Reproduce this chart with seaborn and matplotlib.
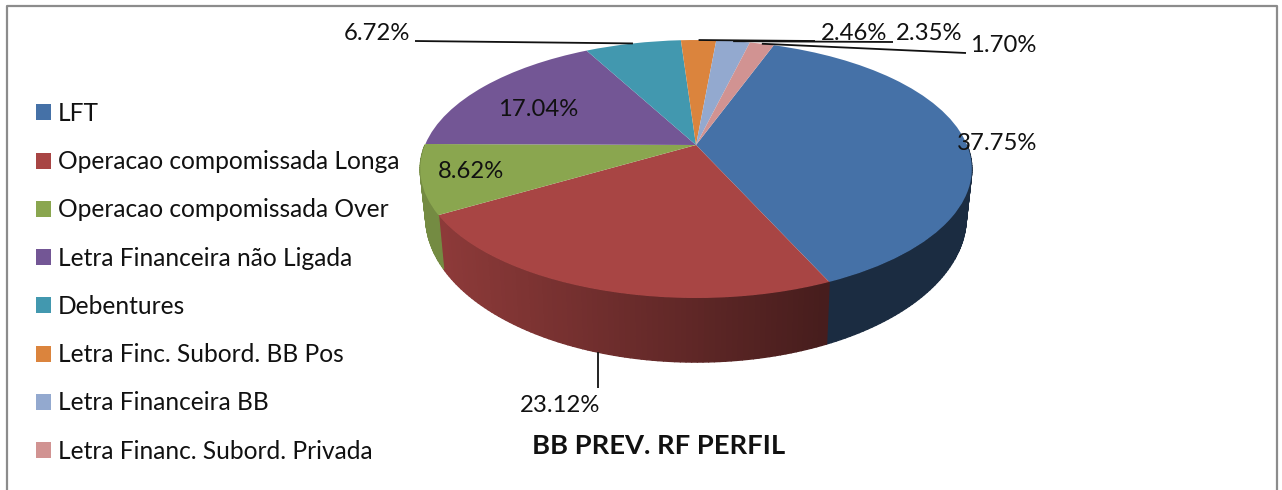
import matplotlib
matplotlib.use("Agg")
import matplotlib.pyplot as plt
from matplotlib.collections import PolyCollection
from matplotlib.patches import Patch
from matplotlib.transforms import Transform
import numpy as np
import seaborn as sns

categories = ["LFT", "Operacao compomissada Longa", "Operacao compomissada Over",
              "Letra Financeira não Ligada", "Debentures", "Letra Finc. Subord. BB Pos",
              "Letra Financeira BB", "Letra Financ. Subord. Privada"]
values = [37.75, 23.12, 8.62, 17.04, 6.72, 2.46, 2.35, 1.70]
colors = ["#4571A7", "#A84544", "#8AA64F", "#735695", "#4298AF", "#DB843D", "#93A9CF", "#D19392"]
title = "BB PREV. RF PERFIL"

# estilo
sns.set_theme(style="white")
plt.rcParams["font.family"] = ["Lato", "DejaVu Sans"]
palette = sns.color_palette(colors)

# geometria do disco em pixels da imagem
CX, CY, A, B, K = 696, 145, 271, 124.5, 0.186
DEPTH, SHRINK_X, STRETCH_Y = 45, 0.98, 1.125
START = 19.7  # graus a partir do topo, sentido horario
FS = 17.2


def project(x, y):
    d = 1 + K * y
    return CX + A * x / d, CY - B * y / d


class Perspective(Transform):
    input_dims = output_dims = 2
    is_separable = False
    has_inverse = False

    def transform_non_affine(self, xy):
        xy = np.asarray(xy, dtype=float)
        return np.column_stack(project(xy[:, 0], xy[:, 1]))


def rim(theta_deg):
    t = np.radians(theta_deg)
    return project(np.sin(t), np.cos(t))


def bottom(theta_deg):
    X, Y = rim(theta_deg)
    return CX + (X - CX) * SHRINK_X, CY + (Y - CY) * STRETCH_Y + DEPTH


fig = plt.figure(figsize=(12.82, 4.90), dpi=100)
ax = fig.add_axes([0, 0, 1, 1])

wedges, _ = ax.pie(values, colors=palette, startangle=90 - START, counterclock=False,
                   wedgeprops={"linewidth": 0})
persp = Perspective()
for w in wedges:
    w.set_transform(persp + ax.transData)
    w.set_zorder(3)
ax.set_aspect("auto")
ax.set_xlim(0, 1282)
ax.set_ylim(490, 0)
ax.set_axis_off()

# lateral do disco, so a parte da frente, escurecendo para a direita
fractions = np.array(values) / sum(values)
edges = START + 360 * np.concatenate([[0], np.cumsum(fractions)])
polys, faces = [], []
for i, col in enumerate(palette):
    lo, hi = max(edges[i], 90), min(edges[i + 1], 270)
    if hi <= lo:
        continue
    th = np.linspace(lo, hi, int((hi - lo) / 1.0) + 2)
    for t0, t1 in zip(th[:-1], th[1:]):
        x0, y0 = rim(t0)
        x1, y1 = rim(t1)
        x2, y2 = bottom(t1)
        x3, y3 = bottom(t0)
        polys.append([(x0, y0), (x1, y1), (x2, y2), (x3, y3)])
        shade = np.interp((x0 + x1) / 2, [440, 826], [0.84, 0.42])
        if i == 0:
            shade = 0.39
        faces.append(tuple(c * shade for c in col))
ax.add_collection(PolyCollection(polys, facecolors=faces, edgecolors=faces, linewidths=1.0, zorder=2))

# rotulos de percentual
mids = edges[:-1] + 360 * fractions / 2
label_pos = [(997, 143), (560, 405), (471, 171), (538, 109), (377, 34), (854, 33), (929, 33), (1003, 46)]
for v, (lx, ly) in zip(values, label_pos):
    ax.text(lx, ly, f"{v:.2f}%", ha="center", va="center", fontsize=FS, color="#111111", zorder=6)

# linhas de chamada
leaders = {4: (415, 41), 5: (815, 41), 6: (893, 42), 7: (966, 53)}
for i, end in leaders.items():
    px, py = rim(mids[i])
    ax.plot([px, end[0]], [py, end[1]], color="#111111", lw=1.3, zorder=5, solid_capstyle="butt")
px, py = bottom(mids[1])
ax.plot([px, px], [py, 388], color="#111111", lw=1.3, zorder=5, solid_capstyle="butt")

handles = [Patch(facecolor=c, edgecolor="none") for c in palette]
ax.legend(handles, categories, loc="upper left", bbox_to_anchor=(36 / 1282, 1 - 102 / 490),
          frameon=False, fontsize=17.65, borderpad=0, borderaxespad=0, handlelength=0.62,
          handleheight=0.62, handletextpad=0.28, labelspacing=1.03, labelcolor="#111111")

ax.text(659, 446, title, ha="center", va="center", fontsize=19.7, fontweight="bold", color="#111111")

# moldura sem a base
ax.plot([7, 7, 1277, 1277], [490, 6, 6, 490], color="#8c8c8c", lw=1.6, zorder=1)

fig.savefig("out.png", dpi=100)
